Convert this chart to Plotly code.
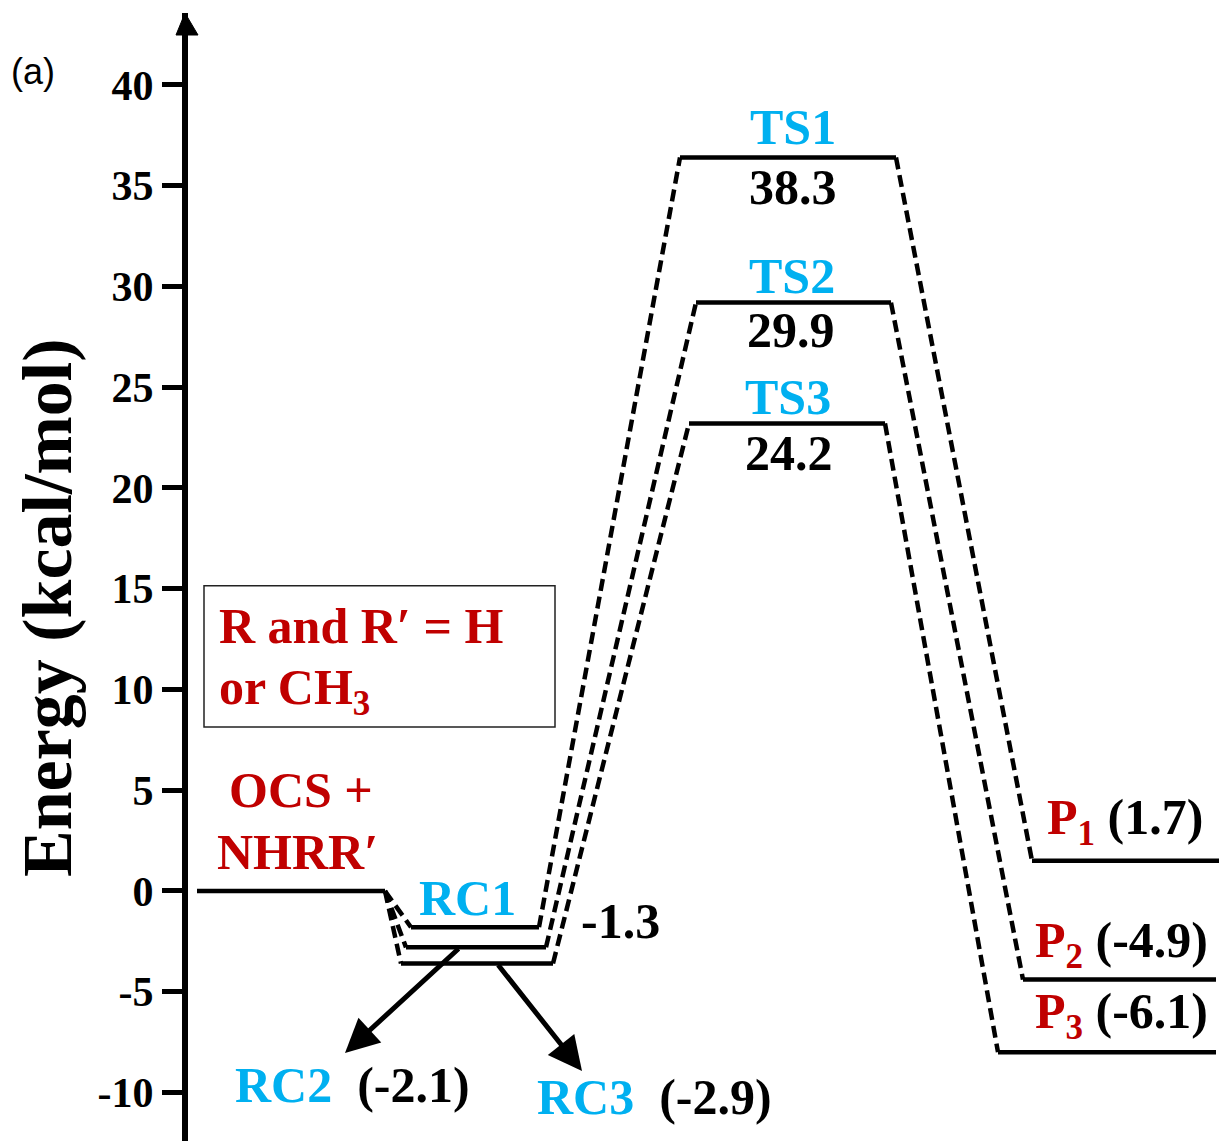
import plotly.graph_objects as go

# ---------------- data (kcal/mol) ----------------
# energies of the drawn levels
reactant_energy = 0.0
rc_energy = [-1.8, -2.8, -3.6]
ts_energy = [36.4, 29.2, 23.2]
p_energy = [1.5, -4.4, -8.0]
# energies printed on the diagram
rc_reported = [-1.3, -2.1, -2.9]
ts_reported = [38.3, 29.9, 24.2]
p_reported = [1.7, -4.9, -6.1]
rc_names = ["RC1", "RC2", "RC3"]
ts_names = ["TS1", "TS2", "TS3"]
p_subs = ["1", "2", "3"]
ytick_vals = [-10, -5, 0, 5, 10, 15, 20, 25, 30, 35, 40]
ytick_text = ["-10", "-5", "0", "5", "10", "15", "20", "25", "30", "35", "40"]

# ---------------- layout constants ----------------
W, H = 1219, 1141
CYAN = "#00B0F0"
RED = "#C00000"
SERIF = "Liberation Serif"
Y_RANGE = [-12.41, 43.57]
TOP_PAD = 13

R_X = (197, 385)
RC_X = [(411, 539), (406, 546), (401, 553)]
TS_X = [(680, 896), (696, 891), (689, 885)]
P_X = [(1032, 1219), (1023, 1216), (998, 1216)]


def fmt(v):
    return f"{v:.1f}"


# solid levels
sx, sy = [], []
levels = [(R_X, reactant_energy)]
levels += list(zip(RC_X, rc_energy))
levels += list(zip(TS_X, ts_energy))
levels += list(zip(P_X, p_energy))
for (x0, x1), e in levels:
    sx += [x0, x1, None]
    sy += [e, e, None]

# dashed connectors
dx, dy = [], []
for i in range(3):
    dx += [R_X[1], RC_X[i][0], None]
    dy += [reactant_energy, rc_energy[i], None]
    dx += [RC_X[i][1], TS_X[i][0], None]
    dy += [rc_energy[i], ts_energy[i], None]
    dx += [TS_X[i][1], P_X[i][0], None]
    dy += [ts_energy[i], p_energy[i], None]

fig = go.Figure()
fig.add_trace(go.Scatter(x=dx, y=dy, mode="lines",
                         line=dict(color="black", width=4.5, dash="12px,6px"),
                         hoverinfo="skip", showlegend=False))
fig.add_trace(go.Scatter(x=sx, y=sy, mode="lines",
                         line=dict(color="black", width=4.5),
                         hoverinfo="skip", showlegend=False))

ann = []


def label(text, x, y, size=50, color="black", xanchor="center", yshift=0, yref="y"):
    ann.append(dict(text=text, x=x, y=y, xref="x", yref=yref, showarrow=False,
                    xanchor=xanchor, yanchor="middle", yshift=yshift,
                    font=dict(family=SERIF, size=size, color=color)))


# TS labels
ts_lab_x = [793, 792, 788]
ts_num_x = [793, 791, 789]
ts_up = [30, 27, 26]
ts_dn = [30, 27, 30]
for i in range(3):
    label(f"<b>{ts_names[i]}</b>", ts_lab_x[i], ts_energy[i], color=CYAN, yshift=ts_up[i])
    label(f"<b>{fmt(ts_reported[i])}</b>", ts_num_x[i], ts_energy[i], yshift=-ts_dn[i])

# RC labels
label(f"<b>{rc_names[0]}</b>", 467, rc_energy[0], color=CYAN, yshift=29)
label(f"<b>{fmt(rc_reported[0])}</b>", 620, rc_energy[0], yshift=6)
label(f"<b><span style='color:{CYAN}'>{rc_names[1]}</span>  ({fmt(rc_reported[1])})</b>",
      233, -9.63, xanchor="left")
label(f"<b><span style='color:{CYAN}'>{rc_names[2]}</span>  ({fmt(rc_reported[2])})</b>",
      535, -10.22, xanchor="left")

# reactant label
label("<b>OCS +</b>", 301, 5.0, color=RED)
label("<b>NHRR′</b>", 297, 1.93, color=RED)

# product labels
p_lab_x = [1045, 1033, 1033]
p_up = [40, 36, 37]
for i in range(3):
    label(f"<b><span style='color:{RED}'>P<sub>{p_subs[i]}</sub></span> ({fmt(p_reported[i])})</b>",
          p_lab_x[i], p_energy[i], xanchor="left", yshift=p_up[i])

# box text
label("<b>R and R′ = H</b>", 217, 13.15, color=RED, xanchor="left")
label("<b>or CH<sub>3</sub></b>", 217, 9.9, color=RED, xanchor="left")

# axis title
ann.append(dict(text="<b>Energy (kcal/mol)</b>", x=47, y=14.04, xref="x", yref="y",
                showarrow=False, textangle=-90, xanchor="center", yanchor="middle",
                font=dict(family=SERIF, size=70, color="black")))
# panel label
ann.append(dict(text="(a)", x=33, y=1 - 71 / H, xref="x", yref="paper", showarrow=False,
                xanchor="center", yanchor="middle",
                font=dict(family="Liberation Sans", size=36, color="black")))

# arrows from RC levels
ann.append(dict(text="", x=345, y=-8.04, xref="x", yref="y",
                ax=460, ay=rc_energy[1], axref="x", ayref="y",
                showarrow=True, arrowhead=2, arrowsize=1.35, arrowwidth=5, arrowcolor="black"))
ann.append(dict(text="", x=582, y=-8.93, xref="x", yref="y",
                ax=497, ay=rc_energy[2], axref="x", ayref="y",
                showarrow=True, arrowhead=2, arrowsize=1.35, arrowwidth=5, arrowcolor="black"))

shapes = [
    # annotation box
    dict(type="rect", xref="x", yref="y", x0=204, x1=555, y0=8.14, y1=15.14,
         line=dict(color="#222222", width=1.5), fillcolor="rgba(0,0,0,0)"),
    # arrowhead on the y axis
    dict(type="path", xref="paper", yref="paper",
         path=f"M {176/W} {1 - 35/H} L {185/W} {1 - 13/H} L {198/W} {1 - 35/H} Z",
         fillcolor="black", line=dict(color="black", width=1)),
]

fig.update_layout(
    width=W, height=H,
    margin=dict(l=0, r=0, t=0, b=0),
    paper_bgcolor="white", plot_bgcolor="white",
    xaxis=dict(range=[0, W], visible=False, domain=[0, 1], fixedrange=True),
    yaxis=dict(range=Y_RANGE, domain=[0, 1 - TOP_PAD / H], anchor="free", position=185 / W,
               showline=True, linewidth=6, linecolor="black",
               ticks="outside", ticklen=20, tickwidth=5, tickcolor="black",
               tickvals=ytick_vals, ticktext=[f"<b>{t}</b>" for t in ytick_text],
               tickfont=dict(family=SERIF, size=42, color="black"),
               showgrid=False, zeroline=False, fixedrange=True),
    annotations=ann,
    shapes=shapes,
    showlegend=False,
)

fig.write_html("out.html")
